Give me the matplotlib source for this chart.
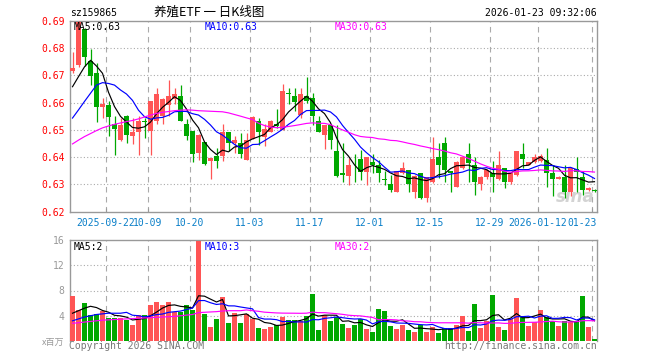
import numpy as np
import pandas as pd
import matplotlib
matplotlib.use('Agg')
import matplotlib.pyplot as plt
import matplotlib.transforms as mtransforms

# ---------------- data ----------------
opens = [.6716, .6737, .6870, .6751, .6710, .6585, .6591, .6522, .6464, .6550,
         .6476, .6493, .6532, .6495, .6534, .6552, .6591, .6614, .6624, .6522,
         .6494, .6413, .6455, .6385, .6402, .6402, .6492, .6453, .6451, .6390,
         .6467, .6532, .6472, .6492, .6522, .6500, .6635, .6625, .6556, .6624,
         .6615, .6532, .6482, .6519, .6423, .6341, .6332, .6357, .6394, .6344,
         .6381, .6371, .6319, .6300, .6271, .6341, .6351, .6271, .6341, .6248,
         .6310, .6399, .6451, .6349, .6291, .6359, .6411, .6371, .6300, .6328,
         .6341, .6320, .6359, .6310, .6334, .6411, .6371, .6381, .6385, .6390,
         .6341, .6320, .6328, .6273, .6357, .6328, .6279, .6278]
highs = [.6786, .6900, .6872, .6795, .6745, .6617, .6607, .6551, .6545, .6555,
         .6544, .6550, .6545, .6605, .6655, .6617, .6684, .6655, .6666, .6541,
         .6497, .6483, .6456, .6396, .6432, .6522, .6493, .6476, .6488, .6488,
         .6550, .6544, .6520, .6535, .6575, .6667, .6655, .6655, .6655, .6694,
         .6636, .6550, .6516, .6521, .6517, .6451, .6396, .6411, .6427, .6399,
         .6411, .6390, .6347, .6334, .6347, .6381, .6353, .6333, .6343, .6328,
         .6472, .6451, .6472, .6350, .6385, .6405, .6451, .6399, .6330, .6356,
         .6386, .6421, .6361, .6343, .6423, .6451, .6383, .6410, .6412, .6433,
         .6371, .6332, .6371, .6362, .6399, .6347, .6290, .6283]
lows = [.6710, .6730, .6735, .6665, .6530, .6545, .6478, .6409, .6458, .6450,
        .6448, .6408, .6470, .6408, .6520, .6520, .6551, .6593, .6531, .6462,
        .6382, .6390, .6370, .6318, .6359, .6384, .6421, .6415, .6396, .6388,
        .6465, .6443, .6439, .6490, .6507, .6500, .6593, .6568, .6544, .6599,
        .6519, .6490, .6431, .6431, .6328, .6310, .6298, .6310, .6316, .6298,
        .6341, .6310, .6298, .6273, .6271, .6338, .6273, .6251, .6246, .6234,
        .6305, .6322, .6310, .6271, .6289, .6357, .6310, .6261, .6278, .6318,
        .6273, .6315, .6288, .6300, .6332, .6359, .6369, .6379, .6380, .6291,
        .6258, .6318, .6248, .6258, .6270, .6261, .6275, .6270]
closes = [.6726, .6895, .6766, .6697, .6585, .6594, .6546, .6504, .6517, .6482,
          .6493, .6533, .6529, .6604, .6633, .6613, .6624, .6633, .6534, .6476,
          .6412, .6482, .6373, .6395, .6384, .6492, .6451, .6462, .6411, .6462,
          .6546, .6492, .6503, .6533, .6515, .6643, .6632, .6603, .6632, .6605,
          .6552, .6492, .6516, .6464, .6332, .6333, .6371, .6356, .6344, .6399,
          .6372, .6341, .6317, .6279, .6347, .6359, .6300, .6332, .6248, .6328,
          .6394, .6371, .6353, .6341, .6381, .6399, .6378, .6310, .6328, .6353,
          .6328, .6371, .6310, .6341, .6423, .6394, .6381, .6399, .6405, .6341,
          .6320, .6328, .6270, .6359, .6344, .6279, .6288, .6277]
volumes = [7.10, 4.96, 6.08, 4.05, 4.30, 4.80, 3.60, 3.60, 3.60, 3.30,
           2.56, 4.16, 4.16, 5.76, 6.24, 5.76, 6.24, 4.60, 4.60, 5.76,
           4.96, 15.9, 4.30, 2.24, 3.50, 6.93, 2.90, 4.50, 2.90, 4.27,
           3.50, 2.08, 1.92, 2.24, 2.56, 3.84, 3.36, 3.36, 3.20, 3.90,
           7.50, 1.76, 4.10, 3.20, 3.84, 2.72, 2.08, 2.56, 3.50, 1.92,
           1.44, 5.12, 4.80, 2.40, 1.92, 2.56, 1.76, 1.44, 2.56, 1.44,
           2.24, 1.28, 2.08, 2.08, 2.56, 4.00, 1.60, 5.92, 2.08, 3.20,
           7.36, 2.24, 1.76, 3.50, 6.88, 4.00, 2.40, 3.04, 4.96, 3.84,
           3.20, 2.40, 3.20, 3.04, 3.20, 7.20, 2.24, 0.32]

# moving-average values before enough visible history exists
ma5_head = [.6658, .6695, .6731, .6755]
ma10_head = [.6543, .6573, .6604, .6634, .6664, .6673, .6670, .6664, .6646]
ma30_head = [.6448, .6462, .6475, .6486, .6497, .6507, .6514, .6520, .6525, .6530,
             .6534, .6540, .6547, .6554, .6560, .6564, .6567, .6570, .6572, .6573,
             .6572, .6570, .6569, .6568, .6567, .6566, .6562, .6556, .6550]
vma5_head = [4.4, 4.8, 5.2, 5.5]
vma10_head = [3.2, 3.5, 3.8, 4.0, 4.2, 4.3, 4.4, 4.4, 4.4]
vma30_head = [2.8, 2.9, 3.0, 3.1, 3.2, 3.3, 3.35, 3.4, 3.45, 3.5,
              3.55, 3.6, 3.65, 3.7, 3.75, 3.8, 3.85, 3.9, 4.0, 4.1,
              4.2, 4.5, 4.55, 4.6, 4.65, 4.75, 4.8, 4.8, 4.8]

date_labels = ['2025-09-22', '10-09', '10-20', '11-03', '11-17', '12-01',
               '12-15', '12-29', '2026-01-12', '01-23']
date_index = [6, 13, 20, 30, 40, 50, 60, 70, 78, 87]
price_ticks = [0.62, 0.63, 0.64, 0.65, 0.66, 0.67, 0.68, 0.69]
vol_ticks = [0, 4, 8, 12, 16]
vol_tick_labels = ['x百万', '4', '8', '12', '16']

code_text = 'sz159865'
title_text = '养殖ETF 一 日K线图'
time_text = '2026-01-23 09:32:06'
price_ma_labels = ['MA5:0.63', 'MA10:0.63', 'MA30:0.63']
vol_ma_labels = ['MA5:2', 'MA10:3', 'MA30:2']

# ---------------- computations ----------------
o = np.array(opens); h = np.array(highs); l = np.array(lows); c = np.array(closes)
v = np.array(volumes)
n = len(c)
x = np.arange(n)

def ma(series, win, head):
    r = pd.Series(series).rolling(win).mean().to_numpy()
    return np.concatenate([np.array(head), r[win - 1:]])

ma5 = ma(c, 5, ma5_head); ma10 = ma(c, 10, ma10_head); ma30 = ma(c, 30, ma30_head)
vma5 = ma(v, 5, vma5_head); vma10 = ma(v, 10, vma10_head); vma30 = ma(v, 30, vma30_head)

RED = '#ff5555'
GREEN = '#00a800'
up = c >= o
colors = np.where(up, RED, GREEN)

W, H = 660, 360
fig = plt.figure(figsize=(6.6, 3.6), dpi=100)
fig.patch.set_facecolor('white')

def fx(px):
    return px / W

def fy(py):
    return 1 - py / H

ax = fig.add_axes([fx(70), fy(211.5), (597 - 70) / W, (211.5 - 20.8) / H])
axv = fig.add_axes([fx(70), fy(341), (597 - 70) / W, (341 - 240) / H])

half = 2.5 / 6.0
xlim = (-half, (597 - 70) / 6.0 - half)
mono = ['DejaVu Sans Mono', 'Noto Sans CJK SC']
FS = 7.0
GRID = '#aaaaaa'
FRAME = '#999999'
grid_x = [i - half for i in date_index]

# ---- price panel ----
body_bottom = np.minimum(o, c)
body_h = np.maximum(np.abs(c - o), 0.00012)
ax.vlines(x, l, h, colors=colors, linewidth=0.9, zorder=3)
ax.bar(x, body_h, bottom=body_bottom, width=5 / 6.0, color=colors,
       edgecolor='none', zorder=4, linewidth=0)
ax.plot(x, ma5, color='black', lw=0.85, zorder=5)
ax.plot(x, ma10, color='#0000ff', lw=0.85, zorder=5)
ax.plot(x, ma30, color='#ff00ff', lw=0.85, zorder=5)
ax.set_xlim(*xlim)
ax.set_ylim(0.62, 0.69)
ax.set_yticks(price_ticks)
ax.set_yticklabels([f'{t:.2f}' for t in price_ticks], color='#ff0000',
                   fontfamily=mono, fontsize=FS)
ax.tick_params(axis='y', length=0, pad=4)
ax.set_xticks(grid_x)
ax.set_xticklabels(date_labels, color='#0a7fc8', fontfamily=mono, fontsize=FS)
ax.tick_params(axis='x', length=3, direction='in', color=FRAME, pad=5)
labs = ax.get_xticklabels()
labs[-1].set_horizontalalignment('right')
labs[-1].set_transform(labs[-1].get_transform() +
                       mtransforms.ScaledTranslation(5 / 100, 0, fig.dpi_scale_trans))
for yv in price_ticks[1:-1]:
    ax.axhline(yv, color=GRID, lw=0.8, ls=(0, (1, 2)), zorder=1)
for gx in grid_x:
    ax.axvline(gx, color=GRID, lw=0.8, ls=(0, (5, 4)), zorder=1)
for sp in ax.spines.values():
    sp.set_color(FRAME)
    sp.set_linewidth(1.0)

# watermark
ax.text(0.995, 0.03, 'sina', transform=ax.transAxes, ha='right', va='bottom',
        fontsize=12, fontstyle='italic', fontweight='bold', color='#c8c8c8',
        alpha=0.8, zorder=2)

# ---- volume panel ----
axv.bar(x, v, width=5 / 6.0, color=colors, edgecolor='none', zorder=3)
axv.plot(x, vma5, color='black', lw=0.85, zorder=5)
axv.plot(x, vma10, color='#0000ff', lw=0.85, zorder=5)
axv.plot(x, vma30, color='#ff00ff', lw=0.85, zorder=5)
axv.set_xlim(*xlim)
axv.set_ylim(0, 16)
axv.set_yticks(vol_ticks)
axv.set_yticklabels(vol_tick_labels, color='#999999', fontfamily=mono, fontsize=FS)
axv.get_yticklabels()[0].set_fontfamily(['Noto Sans CJK SC'])
axv.get_yticklabels()[0].set_fontsize(6.5)
axv.tick_params(axis='y', length=0, pad=4)
axv.set_xticks([])
for yv in vol_ticks[1:-1]:
    axv.axhline(yv, color=GRID, lw=0.8, ls=(0, (1, 2)), zorder=1)
for gx in grid_x:
    axv.axvline(gx, color=GRID, lw=0.8, ls=(0, (5, 4)), zorder=1)
for name, sp in axv.spines.items():
    sp.set_color(FRAME)
    sp.set_linewidth(1.0)
axv.spines['bottom'].set_visible(False)

# ---- texts ----
fig.text(fx(70), fy(13), code_text, ha='left', va='center', fontfamily=mono,
         fontsize=FS, color='black')
fig.text(fx(209), fy(12), title_text, ha='center', va='center',
         fontfamily=['Noto Sans CJK SC'], fontsize=9, color='black')
fig.text(fx(597), fy(13), time_text, ha='right', va='center', fontfamily=mono,
         fontsize=FS, color='black')

ma_cols = ['black', '#0000ff', '#ff00ff']
ma_x = [74, 205, 335]
for s, col, px in zip(price_ma_labels, ma_cols, ma_x):
    fig.text(fx(px), fy(26.5), s, ha='left', va='center', fontfamily=mono,
             fontsize=FS, color=col)
for s, col, px in zip(vol_ma_labels, ma_cols, ma_x):
    fig.text(fx(px), fy(247), s, ha='left', va='center', fontfamily=mono,
             fontsize=FS, color=col)

fig.text(fx(69), fy(346), 'Copyright 2026 SINA.COM', ha='left', va='center',
         fontfamily=mono, fontsize=FS, color='#777777')
fig.text(fx(597), fy(346), 'http://finance.sina.com.cn', ha='right', va='center',
         fontfamily=mono, fontsize=FS, color='#777777')

fig.savefig('out.png', dpi=100, facecolor='white')
